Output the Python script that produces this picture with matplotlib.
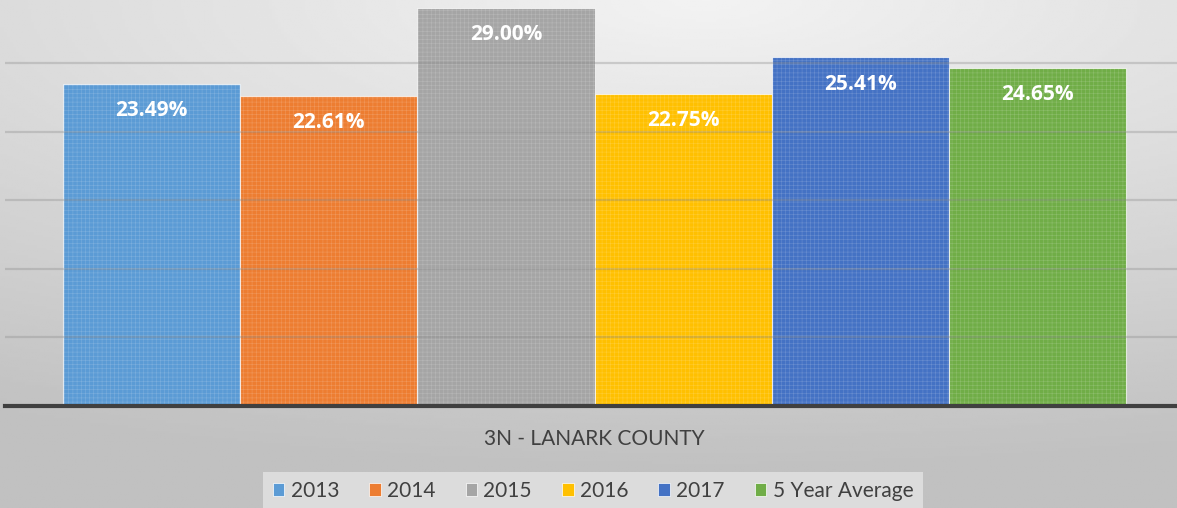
import matplotlib.pyplot as plt
import numpy as np

# --- данные ---
series = ["2013", "2014", "2015", "2016", "2017", "5 Year Average"]
values = [23.49, 22.61, 29.00, 22.75, 25.41, 24.65]
colors = ["#5b9bd5", "#ed7d31", "#a5a5a5", "#ffc000", "#4472c4", "#70ad47"]
category = "3N - LANARK COUNTY"

W, H = 1177, 508
fig = plt.figure(figsize=(W / 100, H / 100), dpi=100)

# --- фон с градиентом ---
bg = fig.add_axes([0, 0, 1, 1], zorder=0)
yy, xx = np.mgrid[0:1:200j, 0:1:400j]
r = np.sqrt((xx - 0.6) ** 2 + (yy * 1.4) ** 2)
shade = 0.95 - 0.15 * np.clip(r, 0, 1.3)
bg.imshow(shade, cmap="gray", vmin=0, vmax=1, aspect="auto",
          extent=[0, 1, 0, 1], origin="upper")
bg.axis("off")

# --- основная область ---
ax = fig.add_axes([5 / W, (H - 406) / H, (W - 5) / W, 406 / H], zorder=1)
ax.patch.set_alpha(0)

x = np.arange(len(values))
bars = ax.bar(x, values, width=1.0, color=colors, edgecolor=(1, 1, 1, 0.7),
              linewidth=0.8, zorder=2)
# текстура поверх заливки
plt.rcParams["hatch.linewidth"] = 0.4
for b in bars:
    ax.bar(b.get_x() + b.get_width() / 2, b.get_height(), width=b.get_width(),
           color="none", edgecolor=(1, 1, 1, 0.2), hatch="++++",
           linewidth=0, zorder=3)

for xi, v in zip(x, values):
    ax.text(xi, v - 1.95, f"{v:.2f}%", ha="center", va="center",
            color="white", fontsize=15, fontweight="bold",
            family="Open Sans", zorder=5)

ax.set_xlim(-0.827, 5.787)
ax.set_ylim(0, 29.6)
ax.set_yticks([5, 10, 15, 20, 25])
ax.yaxis.grid(True, color="#8c8c8c", alpha=0.35, linewidth=1.6, zorder=4)
ax.set_axisbelow(False)
ax.tick_params(left=False, bottom=False, labelleft=False, labelbottom=False)
for s in ["top", "right", "left"]:
    ax.spines[s].set_visible(False)
ax.spines["bottom"].set_color("#404040")
ax.spines["bottom"].set_linewidth(3)
ax.spines["bottom"].set_zorder(6)

fig.text(594 / W, 1 - 439 / H, category, ha="center", va="center",
         fontsize=15, color="#404040", family="Lato")

handles = [plt.Rectangle((0, 0), 1, 1, facecolor=c, edgecolor="white",
                         linewidth=0.5) for c in colors]
leg = fig.legend(handles, series, loc="center", ncol=6,
                 bbox_to_anchor=(593 / W, 1 - 491 / H), frameon=True,
                 prop={"family": "Lato", "size": 15},
                 handlelength=0.55, handleheight=0.55, handletextpad=0.3,
                 columnspacing=1.45, borderpad=0.45, fancybox=False)
leg.get_frame().set_facecolor("#e4e4e4")
leg.get_frame().set_edgecolor("none")
for t in leg.get_texts():
    t.set_color("#404040")

fig.savefig("out.png", dpi=100)
